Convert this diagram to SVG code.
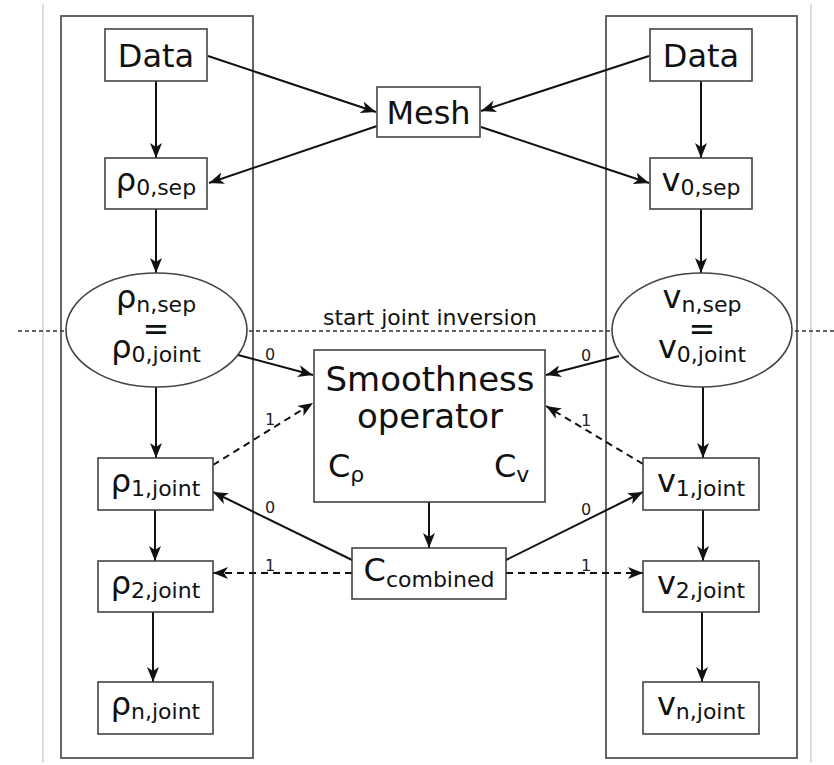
<svg xmlns="http://www.w3.org/2000/svg" width="834" height="765" viewBox="0 0 834 765">
<style>
.box{fill:#fff;stroke:#444;stroke-width:1.6}
.cont{fill:none;stroke:#555;stroke-width:1.8}
.t{font-family:"DejaVu Sans",Verdana,sans-serif;fill:#111;text-anchor:middle}
.m{font-size:32px}
.s{font-size:22px}
.lbl{font-family:"DejaVu Sans",Verdana,sans-serif;font-size:16px;fill:#222;text-anchor:middle}
.c{stroke:#111;stroke-width:2;fill:none}
.d{stroke-dasharray:7,5}
</style>
<defs>
<marker id="ah" markerUnits="userSpaceOnUse" markerWidth="16" markerHeight="12" refX="15" refY="6" orient="auto">
<path d="M0,0 L15,6 L0,12 L4,6 z" fill="#111"/>
</marker>
</defs>
<rect width="834" height="765" fill="#fff"/>
<line x1="43" y1="4" x2="43" y2="763" stroke="#d0d0d0" stroke-width="1.5"/>
<line x1="811" y1="4" x2="811" y2="763" stroke="#d0d0d0" stroke-width="1.5"/>
<g id="containers">
<rect class="cont" x="61" y="16" width="192" height="742"/>
<rect class="cont" x="606" y="16" width="191" height="742"/>
</g>
<g id="divider">
<line x1="18" y1="331" x2="834" y2="331" stroke="#333" stroke-width="1.3" stroke-dasharray="4,3"/>
<text class="t" x="430" y="325" style="font-size:22px">start joint inversion</text>
</g>
<g id="connectors">
<line class="c" x1="156" y1="81" x2="156" y2="158" marker-end="url(#ah)"/>
<line class="c" x1="208" y1="56" x2="376" y2="112" marker-end="url(#ah)"/>
<line class="c" x1="377" y1="126" x2="209" y2="183" marker-end="url(#ah)"/>
<line class="c" x1="649" y1="56" x2="481" y2="111" marker-end="url(#ah)"/>
<line class="c" x1="481" y1="127" x2="649" y2="183" marker-end="url(#ah)"/>
<line class="c" x1="701" y1="81" x2="701" y2="158" marker-end="url(#ah)"/>
<line class="c" x1="156" y1="209" x2="156" y2="273" marker-end="url(#ah)"/>
<line class="c" x1="701" y1="209" x2="701" y2="273" marker-end="url(#ah)"/>
<line class="c" x1="238" y1="355" x2="313" y2="375" marker-end="url(#ah)"/>
<line class="c" x1="619" y1="356" x2="546" y2="375" marker-end="url(#ah)"/>
<line class="c d" x1="213" y1="465" x2="313" y2="403" marker-end="url(#ah)"/>
<line class="c d" x1="643" y1="464" x2="546" y2="406" marker-end="url(#ah)"/>
<line class="c" x1="156" y1="387" x2="156" y2="458" marker-end="url(#ah)"/>
<line class="c" x1="703" y1="387" x2="703" y2="458" marker-end="url(#ah)"/>
<line class="c" x1="429" y1="502" x2="429" y2="548" marker-end="url(#ah)"/>
<line class="c" x1="352" y1="560" x2="213" y2="492" marker-end="url(#ah)"/>
<line class="c" x1="506" y1="560" x2="643" y2="492" marker-end="url(#ah)"/>
<line class="c d" x1="352" y1="573" x2="213" y2="573" marker-end="url(#ah)"/>
<line class="c d" x1="506" y1="573" x2="643" y2="573" marker-end="url(#ah)"/>
<line class="c" x1="155" y1="510" x2="155" y2="561" marker-end="url(#ah)"/>
<line class="c" x1="703" y1="510" x2="703" y2="561" marker-end="url(#ah)"/>
<line class="c" x1="153" y1="612" x2="153" y2="682" marker-end="url(#ah)"/>
<line class="c" x1="702" y1="612" x2="702" y2="682" marker-end="url(#ah)"/>
<text class="lbl" x="270" y="360">0</text>
<text class="lbl" x="586" y="361">0</text>
<text class="lbl" x="270" y="425">1</text>
<text class="lbl" x="586" y="426">1</text>
<text class="lbl" x="270" y="513">0</text>
<text class="lbl" x="586" y="515">0</text>
<text class="lbl" x="270" y="571">1</text>
<text class="lbl" x="586" y="571">1</text>
</g>
<g id="dataL"><rect class="box" x="105" y="29" width="102" height="52"/><text class="t m" x="156" y="67">Data</text></g>
<g id="dataR"><rect class="box" x="650" y="29" width="102" height="52"/><text class="t m" x="701" y="67">Data</text></g>
<g id="mesh"><rect class="box" x="377" y="87" width="103" height="50"/><text class="t m" x="428.5" y="124">Mesh</text></g>
<g id="rho0sep"><rect class="box" x="105" y="158" width="102" height="51"/><text class="t" x="156" y="191"><tspan class="m">ρ</tspan><tspan class="s" dy="4">0,sep</tspan></text></g>
<g id="v0sep"><rect class="box" x="650" y="158" width="102" height="51"/><text class="t" x="701" y="191"><tspan class="m">v</tspan><tspan class="s" dy="4">0,sep</tspan></text></g>
<g id="rhoEll"><ellipse cx="156.5" cy="330" rx="90.5" ry="57" fill="#fff" stroke="#444" stroke-width="1.6"/>
<text class="t" x="156" y="308"><tspan class="m">ρ</tspan><tspan class="s" dy="4">n,sep</tspan></text>
<text class="t m" x="156" y="340">=</text>
<text class="t" x="156" y="358"><tspan class="m">ρ</tspan><tspan class="s" dy="4">0,joint</tspan></text></g>
<g id="vEll"><ellipse cx="702" cy="330" rx="90" ry="57" fill="#fff" stroke="#444" stroke-width="1.6"/>
<text class="t" x="702" y="308"><tspan class="m">v</tspan><tspan class="s" dy="4">n,sep</tspan></text>
<text class="t m" x="702" y="340">=</text>
<text class="t" x="702" y="358"><tspan class="m">v</tspan><tspan class="s" dy="4">0,joint</tspan></text></g>
<g id="smooth"><rect class="box" x="314" y="350" width="231" height="152"/>
<text class="t" x="430" y="391" style="font-size:34px">Smoothness</text>
<text class="t" x="430" y="428" style="font-size:34px">operator</text>
<text class="t" x="328" y="477" style="text-anchor:start"><tspan class="m">C</tspan><tspan class="s" dy="5">ρ</tspan></text>
<text class="t" x="494" y="477" style="text-anchor:start"><tspan class="m">C</tspan><tspan class="s" dy="5">v</tspan></text></g>
<g id="rho1"><rect class="box" x="98" y="458" width="115" height="52"/><text class="t" x="155.5" y="492"><tspan class="m">ρ</tspan><tspan class="s" dy="4">1,joint</tspan></text></g>
<g id="v1"><rect class="box" x="643" y="458" width="116" height="52"/><text class="t" x="701" y="492"><tspan class="m">v</tspan><tspan class="s" dy="4">1,joint</tspan></text></g>
<g id="ccomb"><rect class="box" x="352" y="548" width="154" height="51"/><text class="t" x="429" y="581"><tspan class="m">C</tspan><tspan class="s" dy="6">combined</tspan></text></g>
<g id="rho2"><rect class="box" x="98" y="561" width="115" height="51"/><text class="t" x="155.5" y="594"><tspan class="m">ρ</tspan><tspan class="s" dy="4">2,joint</tspan></text></g>
<g id="v2"><rect class="box" x="643" y="561" width="116" height="51"/><text class="t" x="701" y="594"><tspan class="m">v</tspan><tspan class="s" dy="4">2,joint</tspan></text></g>
<g id="rhon"><rect class="box" x="98" y="682" width="115" height="52"/><text class="t" x="155.5" y="715"><tspan class="m">ρ</tspan><tspan class="s" dy="4">n,joint</tspan></text></g>
<g id="vn"><rect class="box" x="643" y="682" width="116" height="52"/><text class="t" x="701" y="715"><tspan class="m">v</tspan><tspan class="s" dy="4">n,joint</tspan></text></g>
</svg>
